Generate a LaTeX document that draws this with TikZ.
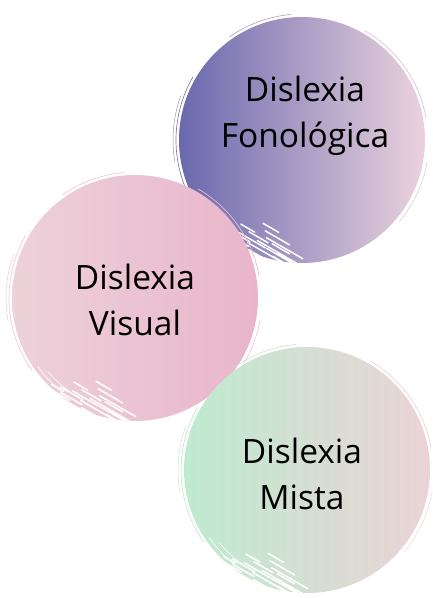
\documentclass[tikz,border=0pt]{standalone}
\usepackage{fontspec}
\setmainfont{Open Sans}
\definecolor{fonoL}{HTML}{6A68AE}
\definecolor{fonoR}{HTML}{EBD3DD}
\definecolor{visL}{HTML}{EDD2DA}
\definecolor{visR}{HTML}{E9B5CA}
\definecolor{misL}{HTML}{BEEBCF}
\definecolor{misR}{HTML}{EBD3D7}
\tikzset{
  blobtext/.style={align=center, font=\fontsize{33.5}{46}\selectfont, text=black},
  streak/.style={white, line width=1.5pt, line cap=round},
}
\begin{document}
\begin{tikzpicture}[x=1pt,y=1pt]
    \def\R{123}
    \useasboundingbox (0,0) rectangle (432,598);
    % centres of the three brush circles
    \coordinate (F) at (302,458);
    \coordinate (V) at (135,300);
    \coordinate (M) at (307,128);
    % circles, bottom to top, each with its brush marks
    \foreach \c/\lc/\rc in {F/fonoL/fonoR, V/visL/visR, M/misL/misR}{%
        \shade[left color=\lc, right color=\rc] (\c) circle (\R);
        % thin rim strokes
        \draw[\lc!80!\rc, line width=0.7pt] (\c) ++(150:\R+3) arc (150:215:\R+3);
        \draw[\lc!60!\rc, line width=0.5pt] (\c) ++(160:\R+6) arc (160:190:\R+6);
        \draw[\rc!85!\lc, line width=0.7pt] (\c) ++(10:\R+3) arc (10:60:\R+3);
        \draw[\rc!85!\lc, line width=0.5pt] (\c) ++(-40:\R+4) arc (-40:-10:\R+4);
        \draw[\lc!50!\rc, line width=0.6pt] (\c) ++(95:\R+3) arc (95:125:\R+3);
        % white dry-brush streaks at lower left
        \foreach \a/\r/\l in {238/124/40, 242/116/48, 246/110/54, 250/104/42,
                              236/112/30, 244/122/36, 252/114/32, 232/120/24,
                              248/98/28, 240/106/22, 228/124/20, 256/120/26,
                              234/104/16, 230/116/26, 226/120/14, 245/92/18,
                              254/108/20, 258/116/16}{%
            \draw[streak] (\c) ++(\a:\r) -- ++(-30:\l);
        }
        \draw[white, line width=0.6pt] (\c) ++(215:\R-4) arc (215:232:\R-4);
        \draw[white, line width=0.5pt] (\c) ++(220:\R-9) arc (220:236:\R-9);
    }
    % labels
    \node[blobtext] (fono) at (305,482) {Dislexia\\Fonológica};
    \node[blobtext] (vis) at (135,298) {Dislexia\\Visual};
    \node[blobtext] (mis) at (302,124) {Dislexia\\Mista};
\end{tikzpicture}
\end{document}
